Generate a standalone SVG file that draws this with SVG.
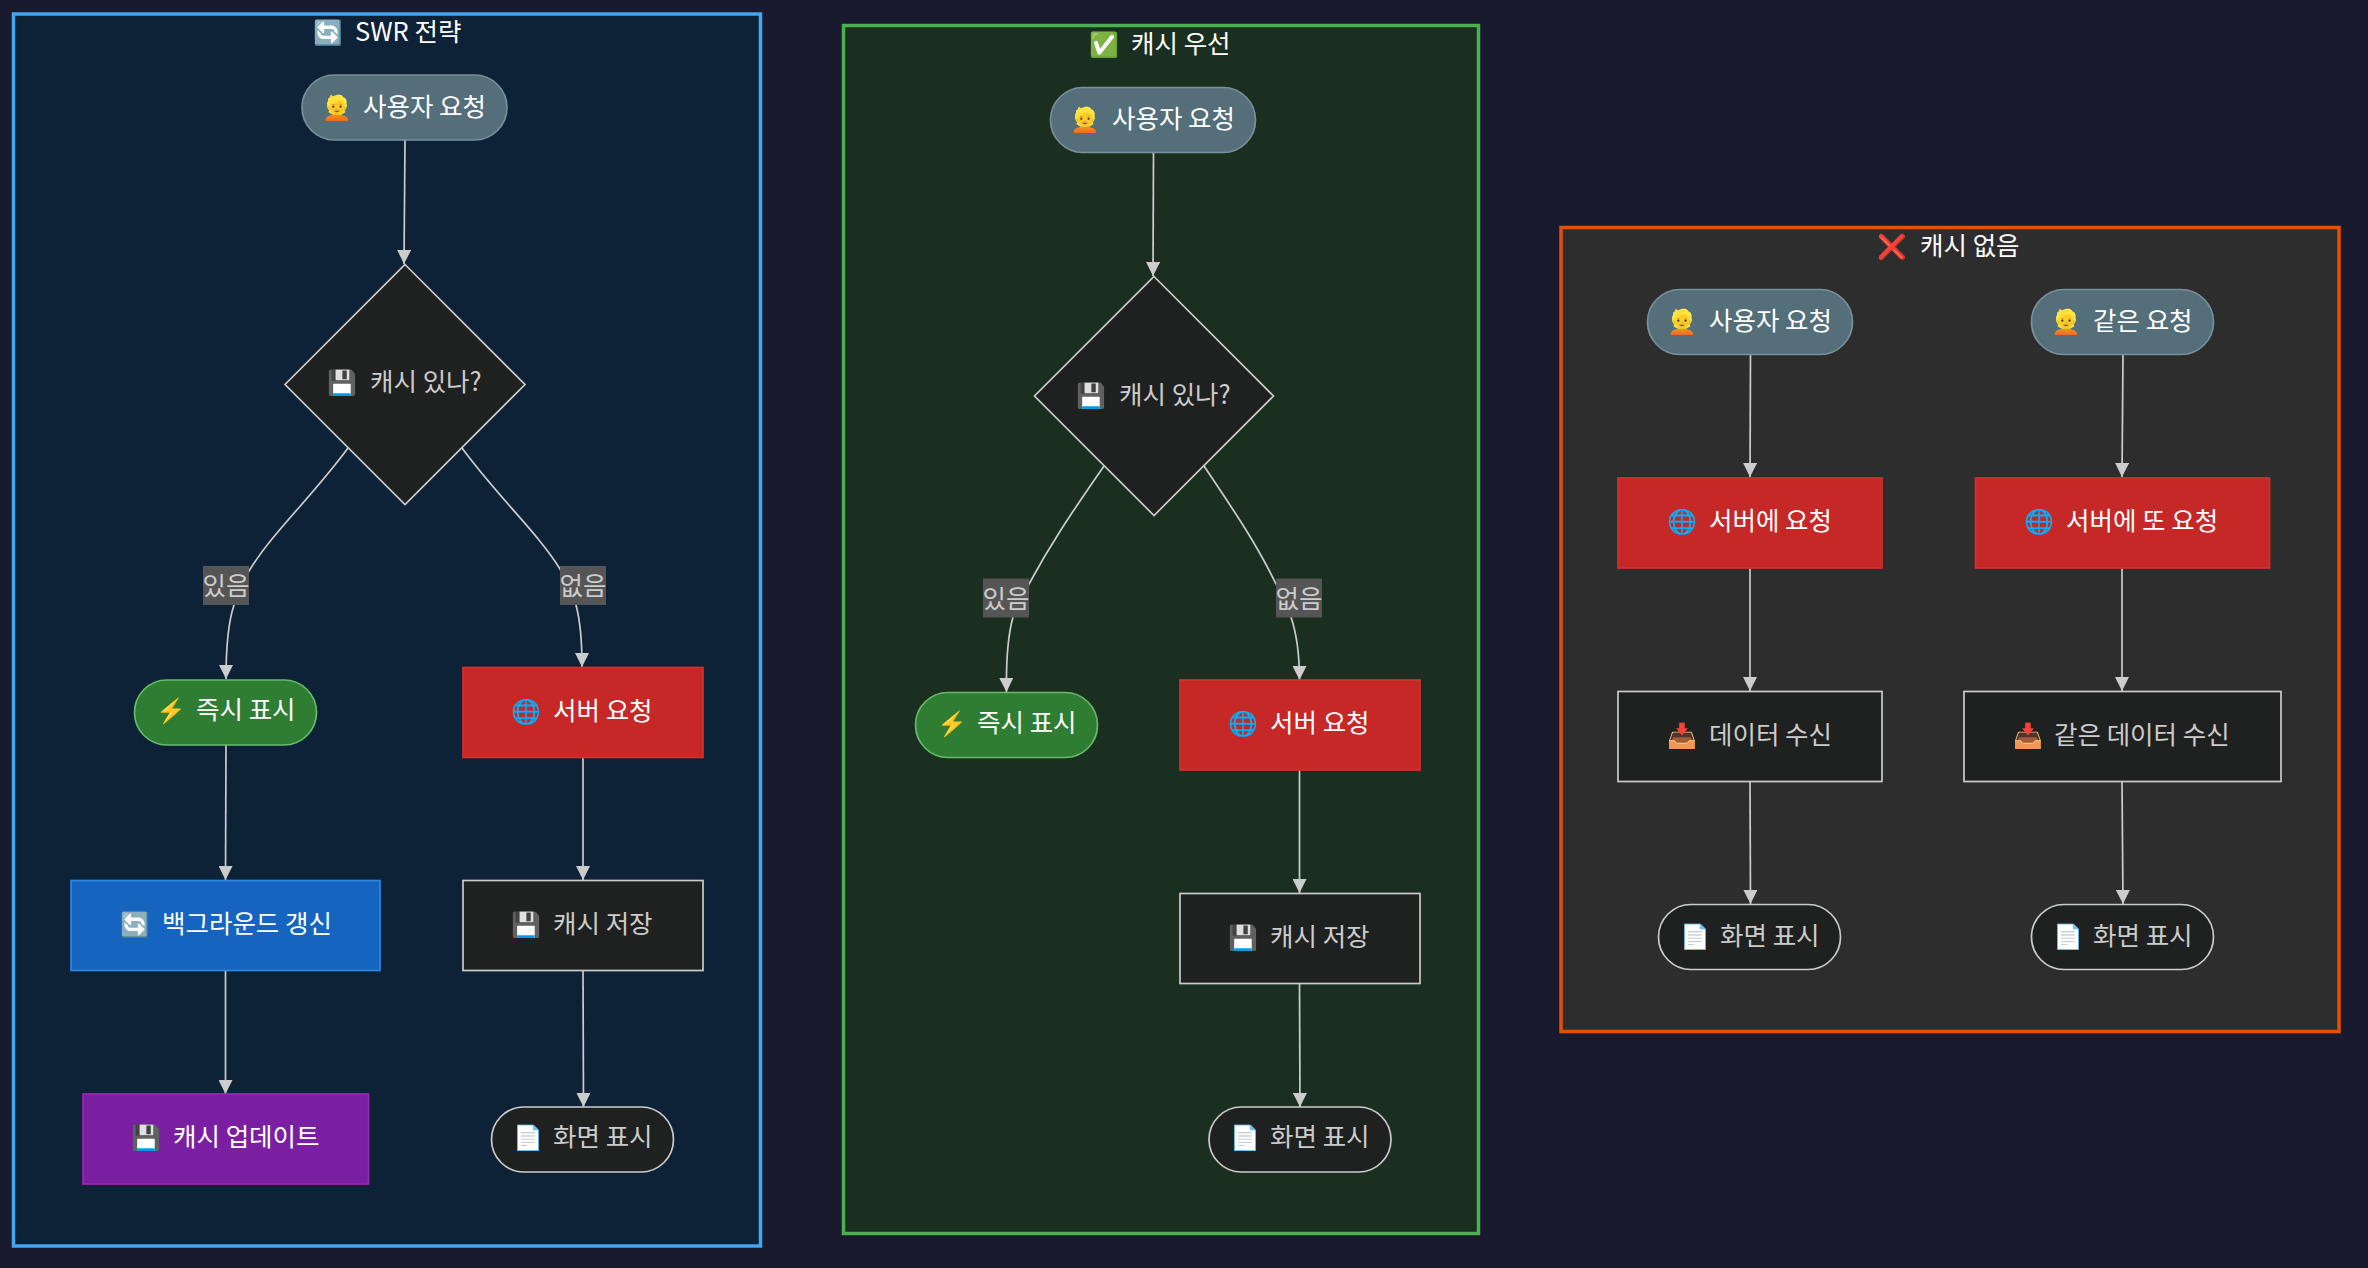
<svg xmlns="http://www.w3.org/2000/svg" width="2368" height="1268" viewBox="0 0 2368 1268">
<style>
text{font-family:"Noto Sans CJK KR","Noto Sans",sans-serif;font-size:25.5px;fill:#fff}
.e{font-family:"Noto Color Emoji","Apple Color Emoji","DejaVu Sans",sans-serif;font-size:24px}
.dark text{fill:#ccc}
.lb text{fill:#ccc;text-anchor:middle}
.lb rect{fill:#555}
.edge{fill:none;stroke:#ccc;stroke-width:1.700;marker-end:url(#a)}
.user rect{fill:#546e7a;stroke:#78909c;stroke-width:1.700}
.dark rect,.dark polygon{fill:#1f2020;stroke:#ccc;stroke-width:1.700}
.red rect{fill:#c62828;stroke:#d32f2f;stroke-width:1.700}
.green rect{fill:#2e7d32;stroke:#66bb6a;stroke-width:1.700}
.blue rect{fill:#1565c0;stroke:#2f86e0;stroke-width:1.700}
.purple rect{fill:#7b1fa2;stroke:#9c27b0;stroke-width:1.700}
.c{stroke-width:3.5}
</style>
<defs><marker id="a" markerUnits="userSpaceOnUse" markerWidth="15" markerHeight="14" refX="14" refY="7" orient="auto"><path d="M0 0L14 7L0 14Z" fill="#ccc"/></marker></defs>
<rect width="2368" height="1268" fill="#1a1a2e"/>
<g id="clusters">
<g id="swr"><rect class="c" x="13.500" y="14" width="747" height="1232" fill="#0d2137" stroke="#42a5f5"/><text y="41"><tspan class="e" x="313">🔄</tspan> <tspan x="355">SWR 전략</tspan></text></g>
<g id="cachefirst"><rect class="c" x="843.500" y="25.500" width="635" height="1208" fill="#1b2f20" stroke="#4caf50"/><text y="53"><tspan class="e" x="1089">✅</tspan> <tspan x="1131">캐시 우선</tspan></text></g>
<g id="nocache"><rect class="c" x="1561" y="227.500" width="778" height="804" fill="#2d2d2d" stroke="#e65100"/><text y="255"><tspan class="e" x="1877">❌</tspan> <tspan x="1920">캐시 없음</tspan></text></g>
</g>
<g id="connectors">
<path class="edge" d="M405 140L404 264"/>
<path class="edge" d="M348 448C312 497 272 533 249 571C240 588 236 597 234 605C229 620 226 640 226 679"/>
<path class="edge" d="M462 448C498 497 538 533 560 569C569 586 573 597 576 605C580 620 582 640 582 667"/>
<path class="edge" d="M226 745L225.500 880"/>
<path class="edge" d="M225.500 970L225.500 1094"/>
<path class="edge" d="M583 757L583 880"/>
<path class="edge" d="M583 970L583.500 1107"/>
<path class="edge" d="M1153.500 152L1153 276"/>
<path class="edge" d="M1104 466C1070 515 1050 545 1029 584C1021 600 1016 610 1013 617C1008 635 1006 660 1006.500 692"/>
<path class="edge" d="M1204 466C1237 515 1257 545 1276 584C1284 600 1289 610 1291 617C1297 635 1299.500 655 1299.500 680"/>
<path class="edge" d="M1299.500 769L1299.500 893"/>
<path class="edge" d="M1299.500 983L1300 1107"/>
<path class="edge" d="M1750.500 354L1750 477"/>
<path class="edge" d="M1750 568L1750 691"/>
<path class="edge" d="M1750 781L1750.500 904"/>
<path class="edge" d="M2123 354L2122 477"/>
<path class="edge" d="M2122 568L2122 691"/>
<path class="edge" d="M2122 781L2123 904"/>
</g>
<g id="s_user" class="user"><rect x="302" y="75" width="205" height="65" rx="32.500"/><text y="116"><tspan class="e" x="322">👱</tspan> <tspan x="363">사용자 요청</tspan></text></g>
<g id="s_q" class="dark"><polygon points="405,264.500 525,384.500 405,504.500 285,384.500"/><text y="391"><tspan class="e" x="327">💾</tspan> <tspan x="370">캐시 있나?</tspan></text></g>
<g id="s_yes" class="lb"><rect x="203" y="566" width="46" height="39"/><text x="226" y="595">있음</text></g>
<g id="s_no" class="lb"><rect x="560" y="566" width="46" height="39"/><text x="583" y="595">없음</text></g>
<g id="s_now" class="green"><rect x="134.500" y="680" width="182" height="65" rx="32.500"/><text y="719"><tspan class="e" x="156">⚡</tspan> <tspan x="196">즉시 표시</tspan></text></g>
<g id="s_srv" class="red"><rect x="463" y="667.500" width="240" height="90"/><text y="720"><tspan class="e" x="511">🌐</tspan> <tspan x="553">서버 요청</tspan></text></g>
<g id="s_bg" class="blue"><rect x="71" y="880.500" width="309" height="90"/><text y="933"><tspan class="e" x="120">🔄</tspan> <tspan x="162">백그라운드 갱신</tspan></text></g>
<g id="s_save" class="dark"><rect x="463" y="880.500" width="240" height="90"/><text y="933"><tspan class="e" x="511">💾</tspan> <tspan x="553">캐시 저장</tspan></text></g>
<g id="s_upd" class="purple"><rect x="83" y="1094" width="285.500" height="90"/><text y="1146"><tspan class="e" x="131">💾</tspan> <tspan x="173">캐시 업데이트</tspan></text></g>
<g id="s_show" class="dark"><rect x="491.500" y="1107" width="182" height="65" rx="32.500"/><text y="1146"><tspan class="e" x="513">📄</tspan> <tspan x="553">화면 표시</tspan></text></g>
<g id="f_user" class="user"><rect x="1050.500" y="87.500" width="205" height="65" rx="32.500"/><text y="128"><tspan class="e" x="1070">👱</tspan> <tspan x="1112">사용자 요청</tspan></text></g>
<g id="f_q" class="dark"><polygon points="1154,276.500 1273.500,396 1154,515.500 1034.500,396"/><text y="404"><tspan class="e" x="1076">💾</tspan> <tspan x="1119">캐시 있나?</tspan></text></g>
<g id="f_yes" class="lb"><rect x="983" y="578.500" width="46" height="39"/><text x="1006" y="607.500">있음</text></g>
<g id="f_no" class="lb"><rect x="1276" y="578.500" width="46" height="39"/><text x="1299" y="607.500">없음</text></g>
<g id="f_now" class="green"><rect x="915.500" y="692.500" width="182" height="65" rx="32.500"/><text y="732"><tspan class="e" x="937">⚡</tspan> <tspan x="977">즉시 표시</tspan></text></g>
<g id="f_srv" class="red"><rect x="1180" y="680" width="240" height="90"/><text y="732"><tspan class="e" x="1228">🌐</tspan> <tspan x="1270">서버 요청</tspan></text></g>
<g id="f_save" class="dark"><rect x="1180" y="893.500" width="240" height="90"/><text y="946"><tspan class="e" x="1228">💾</tspan> <tspan x="1270">캐시 저장</tspan></text></g>
<g id="f_show" class="dark"><rect x="1209" y="1107" width="182" height="65" rx="32.500"/><text y="1146"><tspan class="e" x="1230">📄</tspan> <tspan x="1270">화면 표시</tspan></text></g>
<g id="n_user" class="user"><rect x="1647.500" y="289.500" width="205" height="65" rx="32.500"/><text y="330"><tspan class="e" x="1667">👱</tspan> <tspan x="1709">사용자 요청</tspan></text></g>
<g id="n_srv" class="red"><rect x="1618" y="478" width="264" height="90"/><text y="530"><tspan class="e" x="1667">🌐</tspan> <tspan x="1709">서버에 요청</tspan></text></g>
<g id="n_data" class="dark"><rect x="1618" y="691.500" width="264" height="90"/><text y="744"><tspan class="e" x="1667">📥</tspan> <tspan x="1709">데이터 수신</tspan></text></g>
<g id="n_show" class="dark"><rect x="1658.500" y="904.500" width="182" height="65" rx="32.500"/><text y="945"><tspan class="e" x="1680">📄</tspan> <tspan x="1720">화면 표시</tspan></text></g>
<g id="n_user2" class="user"><rect x="2031.500" y="289.500" width="182" height="65" rx="32.500"/><text y="330"><tspan class="e" x="2051">👱</tspan> <tspan x="2093">같은 요청</tspan></text></g>
<g id="n_srv2" class="red"><rect x="1975.500" y="478" width="294" height="90"/><text y="530"><tspan class="e" x="2024">🌐</tspan> <tspan x="2066">서버에 또 요청</tspan></text></g>
<g id="n_data2" class="dark"><rect x="1964" y="691.500" width="317" height="90"/><text y="744"><tspan class="e" x="2013">📥</tspan> <tspan x="2054">같은 데이터 수신</tspan></text></g>
<g id="n_show2" class="dark"><rect x="2031.500" y="904.500" width="182" height="65" rx="32.500"/><text y="945"><tspan class="e" x="2053">📄</tspan> <tspan x="2093">화면 표시</tspan></text></g>
</svg>
